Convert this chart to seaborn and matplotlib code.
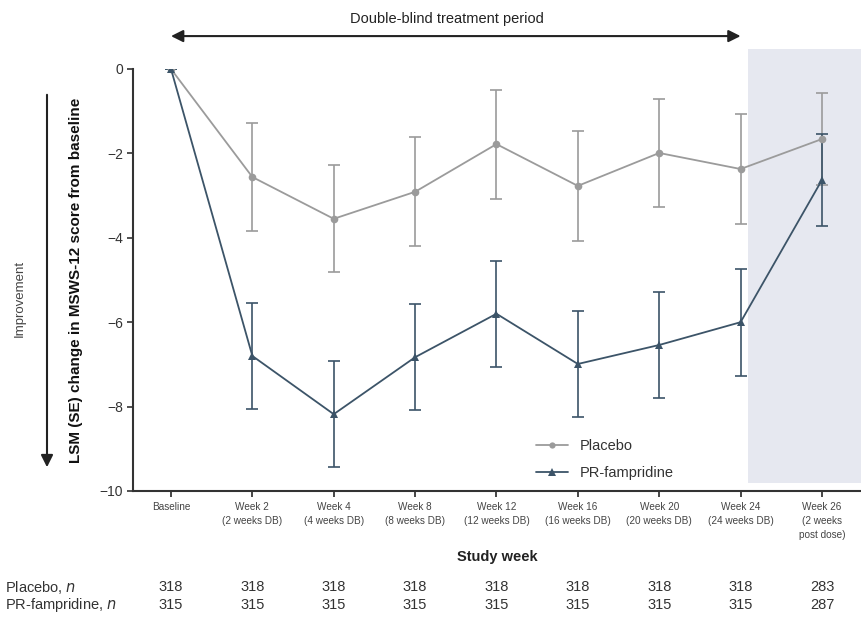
import matplotlib
matplotlib.use("Agg")
import matplotlib.pyplot as plt
import seaborn as sns
import pandas as pd
import numpy as np
from matplotlib.patches import Rectangle, FancyArrowPatch
import matplotlib.transforms as mtransforms

sns.set_theme(style="white")
plt.rcParams['font.family'] = ['Liberation Sans', 'DejaVu Sans']

categories = ["Baseline", "Week 2\n(2 weeks DB)", "Week 4\n(4 weeks DB)", "Week 8\n(8 weeks DB)",
              "Week 12\n(12 weeks DB)", "Week 16\n(16 weeks DB)", "Week 20\n(20 weeks DB)",
              "Week 24\n(24 weeks DB)", "Week 26\n(2 weeks\npost dose)"]
placebo_mean = [0, -2.56, -3.55, -2.91, -1.78, -2.77, -1.99, -2.37, -1.66]
placebo_se = [0, 1.28, 1.27, 1.29, 1.29, 1.30, 1.29, 1.30, 1.10]
pr_mean = [0, -6.80, -8.18, -6.83, -5.80, -6.99, -6.54, -6.00, -2.63]
pr_se = [0, 1.25, 1.26, 1.26, 1.25, 1.25, 1.26, 1.27, 1.10]
placebo_n = [318, 318, 318, 318, 318, 318, 318, 318, 283]
pr_n = [315, 315, 315, 315, 315, 315, 315, 315, 287]

c_pl = "#9b9b9b"
c_pr = "#3c5468"

x = np.arange(len(categories))
df = pd.DataFrame({
    "x": np.concatenate([x, x]),
    "y": placebo_mean + pr_mean,
    "Group": ["Placebo"] * len(x) + ["PR-fampridine"] * len(x),
})

fig = plt.figure(figsize=(8.61, 6.17), dpi=100)
ax = fig.add_axes([133 / 861, 1 - 491 / 617, 1 - 133 / 861, (491 - 69) / 617])

# shaded post-dose region
ax.add_patch(Rectangle((7.09, -9.8), 8.48 - 7.09, 0.47 + 9.8, facecolor="#e6e8f0",
                       edgecolor="none", clip_on=False, zorder=0))

ax.errorbar(x, placebo_mean, yerr=placebo_se, fmt="none", ecolor=c_pl, elinewidth=1.2,
            capsize=4, capthick=1.2, zorder=2)
ax.errorbar(x, pr_mean, yerr=pr_se, fmt="none", ecolor=c_pr, elinewidth=1.2,
            capsize=4, capthick=1.2, zorder=2)

sns.lineplot(data=df, x="x", y="y", hue="Group", style="Group",
             palette={"Placebo": c_pl, "PR-fampridine": c_pr},
             markers={"Placebo": "o", "PR-fampridine": "^"}, dashes=False,
             markersize=5.5, linewidth=1.3, markeredgewidth=0, ax=ax, zorder=3)
for ln in ax.get_lines():
    if ln.get_marker() == "^":
        ln.set_markersize(6)

ax.set_xlim(-0.467, 8.48)
ax.set_ylim(-10, 0)
ax.set_yticks([0, -2, -4, -6, -8, -10])
ax.set_yticklabels(["0", "\u22122", "\u22124", "\u22126", "\u22128", "\u221210"])
ax.set_xticks(x)
ax.set_xticklabels(categories, fontsize=7.2, color="#444444", linespacing=1.5)
ax.tick_params(axis="y", labelsize=10, colors="#333333", length=4, width=1.2, left=True, pad=3)
ax.tick_params(axis="x", length=4, width=1.2, bottom=True, pad=4)
for lbl in ax.get_yticklabels():
    lbl.set_color("#333333")
for s in ["top", "right"]:
    ax.spines[s].set_visible(False)
for s in ["left", "bottom"]:
    ax.spines[s].set_color("#333333")
    ax.spines[s].set_linewidth(1.5)
ax.set_xlabel("")
ax.set_ylabel("LSM (SE) change in MSWS-12 score from baseline", fontsize=11,
              fontweight="bold", color="#111111", labelpad=12)

leg = ax.legend(title=None, frameon=False, loc="lower left", bbox_to_anchor=(0.535, -0.005),
                fontsize=10.5, handlelength=2.2, labelspacing=0.9)
for t in leg.get_texts():
    t.set_color("#333333")
for h in leg.legend_handles:
    if h.get_marker() == "^":
        h.set_markersize(5.5)
    else:
        h.set_markersize(4.5)

# double-blind arrow
ax.annotate("", xy=(7.0, 0.78), xytext=(0.0, 0.78),
            arrowprops=dict(arrowstyle="<|-|>", color="#222222", lw=1.5, mutation_scale=18,
                            shrinkA=0, shrinkB=0), annotation_clip=False)
ax.text(3.39, 1.18, "Double-blind treatment period", ha="center", va="center",
        fontsize=10.5, color="#222222", clip_on=False)

# improvement arrow
fig.add_artist(FancyArrowPatch(
    (47 / 861, 1 - 92 / 617), (47 / 861, 1 - 470 / 617), transform=fig.transFigure,
    arrowstyle="-|>", mutation_scale=18, color="#222222", lw=1.5))
fig.text(20 / 861, 1 - 298 / 617, "Improvement", rotation=90, ha="center", va="center",
         fontsize=9.5, color="#444444")

# study week + table
trans = mtransforms.blended_transform_factory(ax.transData, fig.transFigure)
fig.text(497 / 861, 1 - 557 / 617, "Study week", ha="center", va="center",
         fontsize=10.5, fontweight="bold", color="#222222")
fig.text(5 / 861, 1 - 587 / 617, "Placebo, $\\it{n}$", ha="left", va="center",
         fontsize=10.5, color="#333333")
fig.text(5 / 861, 1 - 605 / 617, "PR-fampridine, $\\it{n}$", ha="left", va="center",
         fontsize=10.5, color="#333333")
for i in range(len(categories)):
    ax.text(i, 1 - 587 / 617, str(placebo_n[i]), transform=trans, ha="center", va="center",
            fontsize=10.5, color="#333333")
    ax.text(i, 1 - 605 / 617, str(pr_n[i]), transform=trans, ha="center", va="center",
            fontsize=10.5, color="#333333")

fig.savefig("out.png", dpi=100)
